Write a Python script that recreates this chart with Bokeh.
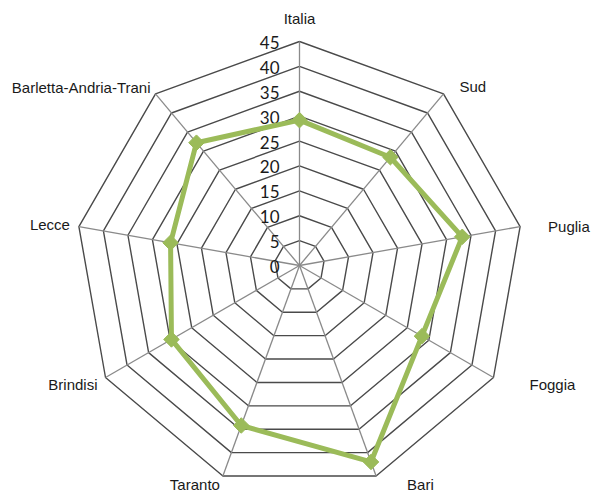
import numpy as np
from bokeh.plotting import figure
from bokeh.models import ColumnDataSource
from bokeh.core.properties import value
from bokeh.embed import file_html
from bokeh.resources import INLINE

# Radar categories and series values
categories = ["Italia", "Sud", "Puglia", "Foggia", "Bari", "Taranto",
              "Brindisi", "Lecce", "Barletta-Andria-Trani"]
values = [29.2, 28.4, 33.2, 28.4, 42.0, 34.2, 29.7, 26.3, 32.2]
tick_values = [0, 5, 10, 15, 20, 25, 30, 35, 40, 45]
tick_labels = [str(t) for t in tick_values]
r_max = 45

W, H = 592, 492
cx_px, cy_px = 299, 265          # chart centre in screen pixels
R_px = 224                       # pixel radius of the outer ring
k = R_px / r_max                 # pixels per value unit

p = figure(width=W, height=H, output_backend="svg", toolbar_location=None,
           x_range=(-cx_px / k, (W - cx_px) / k),
           y_range=(-(H - cy_px) / k, cy_px / k),
           min_border=0, outline_line_color=None)
p.axis.visible = False
p.grid.visible = False
p.background_fill_color = "white"

n = len(categories)
angles = np.pi / 2 - np.arange(n) * 2 * np.pi / n
cosA, sinA = np.cos(angles), np.sin(angles)

# concentric gridline polygons
for t in tick_values[1:]:
    xs = list(t * cosA) + [t * cosA[0]]
    ys = list(t * sinA) + [t * sinA[0]]
    p.line(xs, ys, line_color="#4a4a4a", line_width=1.4)

# spokes
p.multi_line([[0, r_max * c] for c in cosA], [[0, r_max * s] for s in sinA],
             line_color="#8a8a8a", line_width=1.3)

# value tick labels along the top spoke
p.text(x=[0] * len(tick_values), y=tick_values, text=tick_labels,
       text_font=value("Lato"), text_font_size="17px", text_color="#1a1a1a",
       text_align="right", text_baseline="middle", x_offset=-20, y_offset=1)

# category labels: alignment and pixel offset from each outer vertex
label_layout = [("center", 0, -23), ("left", 16, -7), ("left", 28, 0),
                ("left", 36, 7), ("left", 31, 9), ("right", -3, 9),
                ("right", -8, 7), ("right", -9, -2), ("right", -5, -6)]
for i, cat in enumerate(categories):
    align, dx, dy = label_layout[i]
    p.text(x=[r_max * cosA[i]], y=[r_max * sinA[i]], text=[cat],
           text_font=value("Liberation Sans"), text_font_size="15px",
           text_color="#1a1a1a", text_align=align, text_baseline="middle",
           x_offset=dx, y_offset=dy)

# data series
vx = np.array(values) * cosA
vy = np.array(values) * sinA
src = ColumnDataSource(dict(x=vx, y=vy))
p.line(list(vx) + [vx[0]], list(vy) + [vy[0]], line_color="#9bbb59",
       line_width=5, line_join="round")
p.scatter("x", "y", source=src, marker="square", angle=np.pi / 4, size=11,
          fill_color="#9bbb59", line_color="#9bbb59")

open("out.html", "w").write(file_html(p, INLINE))
